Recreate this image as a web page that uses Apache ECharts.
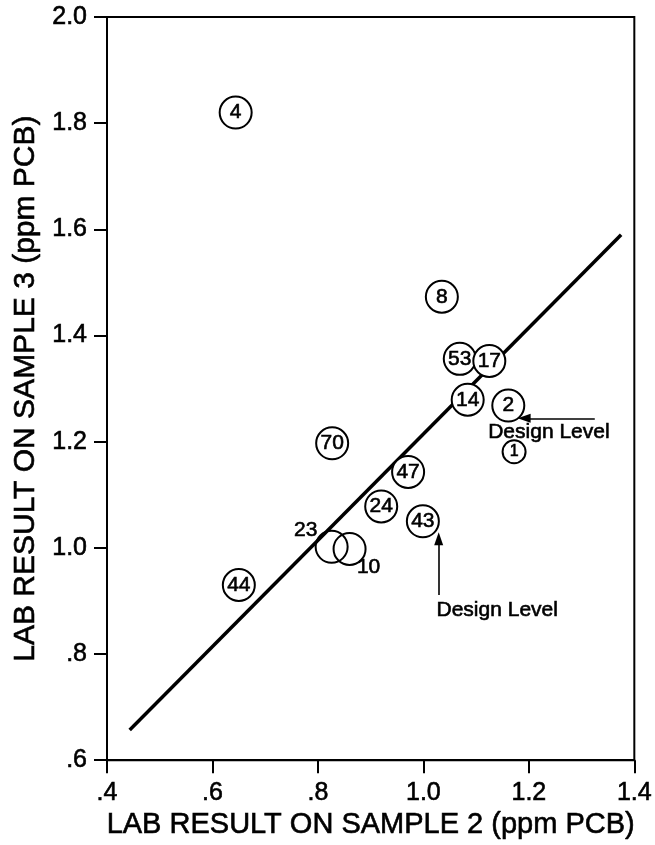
<!DOCTYPE html>
<html>
<head>
<meta charset="utf-8">
<script src="https://cdn.jsdelivr.net/npm/echarts@6/dist/echarts.min.js"></script>
<style>
html,body{margin:0;padding:0;background:#fff;}
#chart{width:655px;height:845px;}
</style>
</head>
<body>
<div id="chart"></div>
<script>
// ---- data ----
var labIds = ['4', '8', '53', '17', '14', '2', '1', '70', '47', '24', '43', '44', '23', '10'];
var sample2 = [0.644, 1.035, 1.069, 1.125, 1.084, 1.161, 1.172, 0.827, 0.971, 0.920, 0.999, 0.650, 0.826, 0.860];
var sample3 = [1.820, 1.473, 1.356, 1.352, 1.279, 1.268, 1.181, 1.197, 1.143, 1.078, 1.050, 0.930, 1.002, 0.998];
var fitX = [0.443, 1.375];
var fitY = [0.657, 1.590];
var xTickLabels = ['.4', '.6', '.8', '1.0', '1.2', '1.4'];
var yTickLabels = ['.6', '.8', '1.0', '1.2', '1.4', '1.6', '1.8', '2.0'];
var annotText = ['Design Level', 'Design Level'];
var annotTextX = [1.238, 1.140];
var annotTextY = [1.218, 0.883];
var arrowFrom = [[1.325, 1.244], [1.029, 0.911]];
var arrowTo = [[1.191, 1.244], [1.029, 1.017]];

var FONT = '"Liberation Sans", Arial, Helvetica, sans-serif';
var INK = {textBorderColor: '#000', textBorderWidth: 0.6};
var chart = echarts.init(document.getElementById('chart'), null, {renderer: 'canvas'});

var xMin = 0.4, xMax = 1.4, yMin = 0.6, yMax = 2.0, step = 0.2;

var pts = [];
for (var i = 0; i < labIds.length; i++) {
  var id = labIds[i];
  var item = {value: [sample2[i], sample3[i]], name: id};
  if (id === '1') {
    item.symbolSize = 23;
    item.label = {fontSize: 16};
  }
  if (id === '23') {
    item.itemStyle = {color: 'rgba(0,0,0,0)'};
    item.label = {position: [-9, 0], align: 'center', verticalAlign: 'middle'};
  }
  if (id === '10') {
    item.itemStyle = {color: 'rgba(0,0,0,0)'};
    item.label = {position: [36, 35], align: 'center', verticalAlign: 'middle'};
  }
  pts.push(item);
}

var textPts = [];
for (var j = 0; j < annotText.length; j++) {
  textPts.push({value: [annotTextX[j], annotTextY[j]], name: annotText[j]});
}

var arrows = [];
for (var k = 0; k < arrowFrom.length; k++) {
  arrows.push([{coord: arrowFrom[k], symbol: 'none'}, {coord: arrowTo[k], symbol: 'triangle'}]);
}

chart.setOption({
  animation: false,
  backgroundColor: '#fff',
  grid: {left: 107, right: 18, top: 17, bottom: 76, show: true, borderColor: '#000', borderWidth: 2, backgroundColor: 'transparent'},
  xAxis: {
    type: 'value', min: xMin, max: xMax, interval: step,
    name: 'LAB RESULT ON SAMPLE 2 (ppm PCB)', nameLocation: 'middle', nameGap: 46,
    nameTextStyle: Object.assign({fontFamily: FONT, fontSize: 29, color: '#000'}, INK),
    axisLine: {show: true, onZero: false, lineStyle: {color: '#000', width: 2}},
    axisTick: {show: true, length: 13, lineStyle: {color: '#000', width: 2}},
    splitLine: {show: false},
    axisLabel: Object.assign({
      margin: 20, fontFamily: FONT, fontSize: 25, color: '#000',
      showMinLabel: true, showMaxLabel: true,
      formatter: function (v) { return xTickLabels[Math.round((v - xMin) / step)]; }
    }, INK)
  },
  yAxis: {
    type: 'value', min: yMin, max: yMax, interval: step,
    name: 'LAB RESULT ON SAMPLE 3 (ppm PCB)', nameLocation: 'middle', nameGap: 51,
    nameTextStyle: Object.assign({fontFamily: FONT, fontSize: 30, color: '#000'}, INK),
    axisLine: {show: true, onZero: false, lineStyle: {color: '#000', width: 2}},
    axisTick: {show: true, length: 13, lineStyle: {color: '#000', width: 2}},
    splitLine: {show: false},
    axisLabel: Object.assign({
      margin: 20, fontFamily: FONT, fontSize: 25, color: '#000',
      showMinLabel: true, showMaxLabel: true,
      formatter: function (v) { return yTickLabels[Math.round((v - yMin) / step)]; }
    }, INK)
  },
  series: [
    {
      type: 'line', data: [[fitX[0], fitY[0]], [fitX[1], fitY[1]]],
      symbol: 'none', lineStyle: {color: '#000', width: 3.5}, z: 2,
      markLine: {
        silent: true, symbolSize: [9, 13],
        lineStyle: {color: '#000', width: 1.6, type: 'solid'},
        label: {show: false},
        data: arrows
      }
    },
    {
      type: 'scatter', data: pts, symbol: 'circle', symbolSize: 32, z: 3,
      itemStyle: {color: '#fff', borderColor: '#000', borderWidth: 2, opacity: 1},
      label: Object.assign({
        show: true, position: 'inside', fontFamily: FONT, fontSize: 21, color: '#000',
        formatter: function (p) { return p.name; }
      }, INK)
    },
    {
      type: 'scatter', data: textPts, symbol: 'circle', symbolSize: 1, z: 4, silent: true,
      itemStyle: {color: 'rgba(255,255,255,0)', opacity: 1},
      label: Object.assign({
        show: true, position: 'inside', fontFamily: FONT, fontSize: 21, color: '#000', opacity: 1,
        formatter: function (p) { return p.name; }
      }, INK)
    }
  ]
});
</script>
</body>
</html>
